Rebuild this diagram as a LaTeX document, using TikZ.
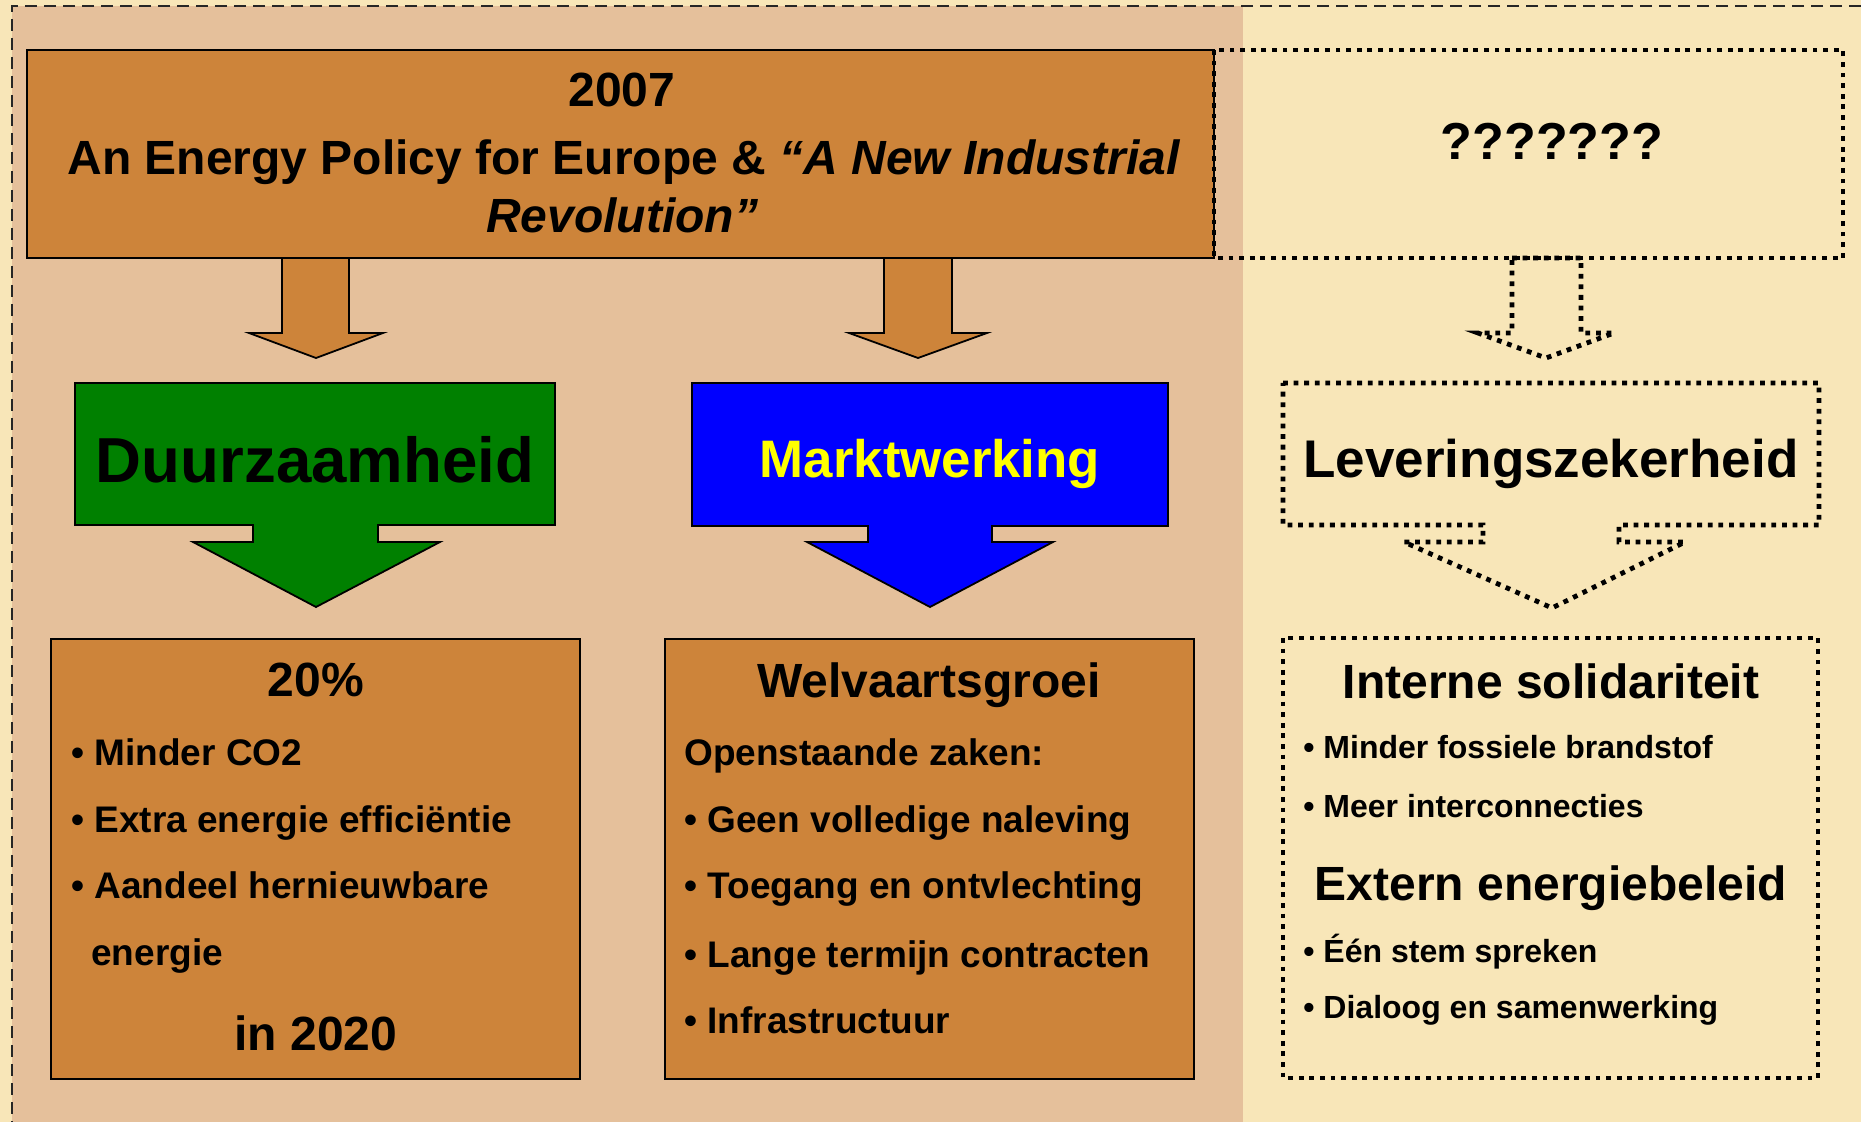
\documentclass[tikz,border=0pt]{standalone}
\usepackage{fontspec}
\setmainfont{Liberation Sans}
\definecolor{creamc}{RGB}{248,230,184}
\definecolor{tanc}{RGB}{229,192,155}
\definecolor{peruc}{RGB}{205,132,58}
\definecolor{greenc}{RGB}{0,128,0}
\definecolor{bluec}{RGB}{0,0,255}
\definecolor{yellowc}{RGB}{255,255,0}
\newcommand\fsHead{\fontsize{24}{28}\selectfont}
\newcommand\fsItem{\fontsize{18.5}{22}\selectfont}
\newcommand\fsSmall{\fontsize{16}{19}\selectfont}
\begin{document}
\begin{tikzpicture}[x=0.5pt,y=-0.5pt,
  txt/.style={inner sep=0pt, font=\bfseries},
  solidbox/.style={fill=peruc, draw=black, line width=0.9pt},
  dotbox/.style={draw=black, line width=2.4pt, dash pattern=on 2.4pt off 2.9pt},
  outerdash/.style={draw=black!85, line width=1pt, dash pattern=on 6pt off 3.5pt}]
\useasboundingbox (0,0) rectangle (1861,1122);
% backgrounds
\fill[creamc] (0,0) rectangle (1861,1122);
\fill[tanc] (12,6) rectangle (1243,1122);
\draw[outerdash] (1861,6) -- (12,6) -- (12,1122);

% top box
\draw[solidbox] (27,50) rectangle (1214,258);
\node[txt, anchor=base] (y2007) at (622,107) {\fsHead 2007};
\node[txt, anchor=base] (title1) at (624,175) {\fsHead An Energy Policy for Europe \& \textit{“A New Industrial}};
\node[txt, anchor=base] (title2) at (622,233) {\fsHead\textit{Revolution”}};

% unknown box
\draw[dotbox] (1214,50) rectangle (1843,258);
\node[txt, anchor=base] (qq) at (1552,160) {\fontsize{26}{30}\selectfont ???????};

% small arrows
\draw[solidbox] (282,258) -- (349,258) -- (349,333) -- (383,333) -- (316,358) -- (249,333) -- (282,333) -- cycle;
\draw[solidbox] (884,258) -- (952,258) -- (952,333) -- (987,333) -- (918,358) -- (849,333) -- (884,333) -- cycle;
\draw[dotbox] (1512,258) -- (1581,258) -- (1581,333) -- (1614,333) -- (1546,358) -- (1478,333) -- (1512,333) -- cycle;

% callout arrows
\draw[fill=greenc, draw=black, line width=0.9pt] (75,383) -- (555,383) -- (555,525) -- (378,525) -- (378,542) -- (440,542) -- (316,607) -- (193,542) -- (253,542) -- (253,525) -- (75,525) -- cycle;
\node[txt, anchor=base] (duur) at (315,482) {\fontsize{31.8}{36}\selectfont Duurzaamheid};

\draw[fill=bluec, draw=black, line width=0.9pt] (692,383) -- (1168,383) -- (1168,526) -- (992,526) -- (992,542) -- (1053,542) -- (930,607) -- (807,542) -- (868,542) -- (868,526) -- (692,526) -- cycle;
\node[txt, anchor=base, text=yellowc] (markt) at (930,478) {\fontsize{26.4}{30}\selectfont Marktwerking};

\draw[dotbox] (1283,383) -- (1819,383) -- (1819,525) -- (1619,525) -- (1619,542) -- (1685,542) -- (1552,608) -- (1404,542) -- (1483,542) -- (1483,525) -- (1283,525) -- cycle;
\node[txt, anchor=base] (lever) at (1551,478) {\fontsize{26.5}{30}\selectfont Leveringszekerheid};

% bottom boxes
\draw[solidbox] (51,639) rectangle (580,1079);
\node[txt, anchor=base] (pct) at (316,696) {\fsHead 20\%};
\node[txt, anchor=base west] (l1) at (71,765) {\fsItem • Minder CO2};
\node[txt, anchor=base west] (l2) at (71,832) {\fsItem • Extra energie efficiëntie};
\node[txt, anchor=base west] (l3) at (71,898) {\fsItem • Aandeel hernieuwbare};
\node[txt, anchor=base west] (l4) at (91,965) {\fsItem energie};
\node[txt, anchor=base] (y2020) at (316,1050) {\fsHead in 2020};

\draw[solidbox] (665,639) rectangle (1194,1079);
\node[txt, anchor=base] (welv) at (929,697) {\fsHead Welvaartsgroei};
\node[txt, anchor=base west] (m0) at (684,765) {\fsItem Openstaande zaken:};
\node[txt, anchor=base west] (m1) at (684,832) {\fsItem • Geen volledige naleving};
\node[txt, anchor=base west] (m2) at (684,898) {\fsItem • Toegang en ontvlechting};
\node[txt, anchor=base west] (m3) at (684,967) {\fsItem • Lange termijn contracten};
\node[txt, anchor=base west] (m4) at (684,1033) {\fsItem • Infrastructuur};

\draw[dotbox] (1283,638) rectangle (1818,1078);
\node[txt, anchor=base] (intern) at (1551,698) {\fsHead Interne solidariteit};
\node[txt, anchor=base west] (r1) at (1303,758) {\fsSmall • Minder fossiele brandstof};
\node[txt, anchor=base west] (r2) at (1303,817) {\fsSmall • Meer interconnecties};
\node[txt, anchor=base] (extern) at (1551,900) {\fsHead Extern energiebeleid};
\node[txt, anchor=base west] (r3) at (1303,962) {\fsSmall • Één stem spreken};
\node[txt, anchor=base west] (r4) at (1303,1018) {\fsSmall • Dialoog en samenwerking};
\end{tikzpicture}
\end{document}
